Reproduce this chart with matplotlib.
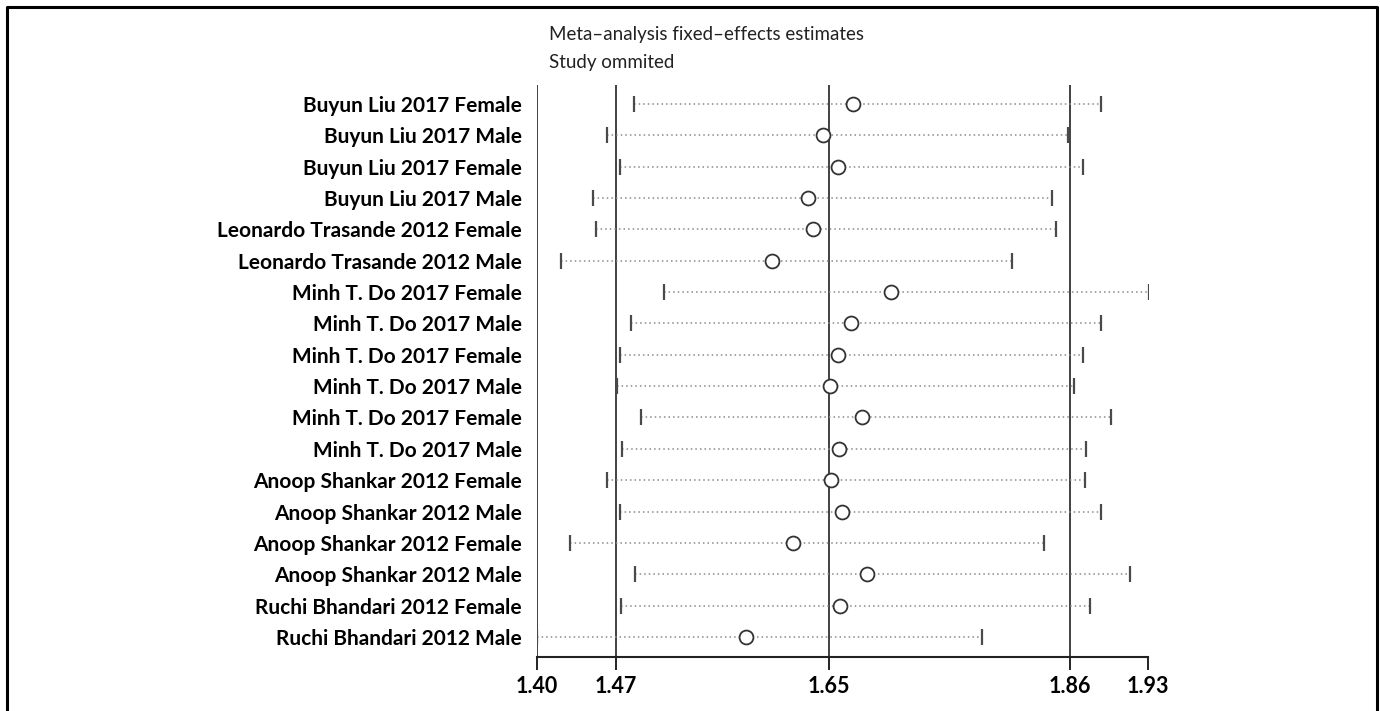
import matplotlib
matplotlib.use('Agg')
import matplotlib.pyplot as plt
from matplotlib.lines import Line2D

studies = ['Buyun Liu 2017 Female', 'Buyun Liu 2017 Male',
           'Buyun Liu 2017 Female', 'Buyun Liu 2017 Male',
           'Leonardo Trasande 2012 Female', 'Leonardo Trasande 2012 Male',
           'Minh T. Do 2017 Female', 'Minh T. Do 2017 Male',
           'Minh T. Do 2017 Female', 'Minh T. Do 2017 Male',
           'Minh T. Do 2017 Female', 'Minh T. Do 2017 Male',
           'Anoop Shankar 2012 Female', 'Anoop Shankar 2012 Male',
           'Anoop Shankar 2012 Female', 'Anoop Shankar 2012 Male',
           'Ruchi Bhandari 2012 Female', 'Ruchi Bhandari 2012 Male']
estimate = [1.674, 1.648, 1.661, 1.635, 1.639, 1.604, 1.707, 1.672, 1.661,
            1.654, 1.682, 1.662, 1.655, 1.665, 1.622, 1.686, 1.663, 1.581]
lower = [1.484, 1.461, 1.472, 1.449, 1.451, 1.421, 1.510, 1.482, 1.472,
         1.469, 1.490, 1.474, 1.461, 1.472, 1.429, 1.485, 1.473, 1.400]
upper = [1.889, 1.861, 1.874, 1.847, 1.850, 1.812, 1.931, 1.889, 1.874,
         1.866, 1.898, 1.876, 1.875, 1.889, 1.840, 1.914, 1.880, 1.786]

# axis range and overall fixed-effects estimate with its CI
x_min, x_max = 1.400, 1.930
overall = [1.4685, 1.6533, 1.8624]

plt.rcParams['font.family'] = ['Lato', 'DejaVu Sans']

fig = plt.figure(figsize=(13.8, 7.11), dpi=100)
ax = fig.add_axes([0.3891, 0.0759, 0.4428, 0.8046])

rows = list(range(1, len(studies) + 1))

for xv in [x_min] + overall:
    ax.axvline(xv, color='#333333', lw=1.3, zorder=1)

ax.hlines(rows, lower, upper, color='#8a8a8a', lw=1.1,
          linestyles=(0, (1, 2.0)), zorder=2)
ax.plot(lower, rows, ls='none', marker='|', ms=12, mew=1.6, color='#4a4a4a', zorder=3)
ax.plot(upper, rows, ls='none', marker='|', ms=12, mew=1.6, color='#4a4a4a', zorder=3)
ax.plot(estimate, rows, ls='none', marker='o', ms=10, mew=1.3,
        mfc='white', mec='#333333', zorder=4)

ax.set_xlim(x_min, x_max)
ax.set_ylim(len(studies) + 0.64, 0.394)

ticks = [x_min] + overall + [x_max]
ax.set_xticks(ticks)
ax.set_xticklabels(['%.2f' % t for t in ticks], fontsize=15.5, fontweight='bold')
ax.tick_params(axis='x', direction='out', length=9, width=1.4, pad=5, color='#222222')

ax.set_yticks(rows)
ax.set_yticklabels(studies, fontsize=15, fontweight='bold')
ax.tick_params(axis='y', length=0, pad=11)

for s in ['top', 'right', 'left']:
    ax.spines[s].set_visible(False)
ax.spines['bottom'].set_linewidth(1.5)
ax.spines['bottom'].set_color('#222222')

fig.text(0.398, 0.944, 'Meta\u2013analysis fixed\u2013effects estimates',
         fontsize=13.5, va='baseline', ha='left', color='#222222')
fig.text(0.398, 0.904, 'Study ommited', fontsize=13.5, va='baseline', ha='left',
         color='#222222')

# outer frame (open at the bottom)
fig.add_artist(Line2D([0.005, 0.005, 0.9976, 0.9976], [0.0, 0.9906, 0.9906, 0.0],
                      transform=fig.transFigure, color='black', lw=2.2))

fig.savefig('out.png', dpi=100)
